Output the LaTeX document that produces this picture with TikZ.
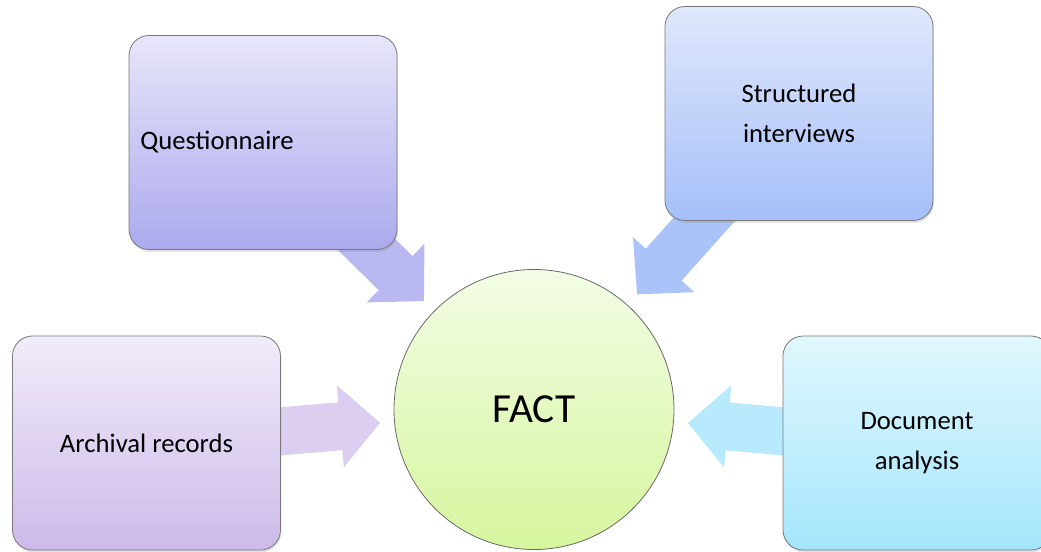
\documentclass[tikz,border=0pt]{standalone}
\usepackage{fontspec}
\setmainfont{Carlito}
\usetikzlibrary{arrows.meta,shadows,backgrounds}

\definecolor{questtop}{RGB}{231,230,249}
\definecolor{questbot}{RGB}{172,169,238}
\definecolor{questarr}{RGB}{186,184,241}
\definecolor{structtop}{RGB}{223,232,252}
\definecolor{structbot}{RGB}{166,191,249}
\definecolor{structarr}{RGB}{172,195,250}
\definecolor{archtop}{RGB}{241,236,250}
\definecolor{archbot}{RGB}{205,186,233}
\definecolor{archarr}{RGB}{220,206,240}
\definecolor{doctop}{RGB}{225,247,254}
\definecolor{docbot}{RGB}{164,230,252}
\definecolor{docarr}{RGB}{182,234,252}
\definecolor{facttop}{RGB}{243,252,229}
\definecolor{factbot}{RGB}{214,246,158}

\tikzset{every picture/.style={line width=0.75pt}}
\tikzset{
  methodbox/.style={rectangle, rounded corners=15pt, minimum width=201pt, minimum height=160.5pt,
    draw={rgb, 255:red, 120; green, 120; blue, 120 }, line width=0.6pt, align=center,
    font=\fontsize{20}{30}\selectfont,
    drop shadow={opacity=0.22, shadow xshift=0.6pt, shadow yshift=-1.8pt}},
  feed/.style={line width=36pt, -{Triangle[length=30pt,width=60pt]}, shorten >=10.5pt}
}

\begin{document}
\begin{tikzpicture}[x=0.75pt,y=0.75pt,yscale=-1,xscale=1]
%set diagram size to 1041 x 552
\useasboundingbox (0,0) rectangle (1041,552);

%Shape: Circle [id:fact]
\node [circle, minimum size=210pt, top color=facttop, bottom color=factbot, draw={rgb, 255:red, 105; green, 105; blue, 105 }, line width=0.6pt, font=\fontsize{31}{37}\selectfont] (fact) at (534,409.5) {FACT};

%Shape: Rounded Rect [id:quest]
\node [methodbox, top color=questtop, bottom color=questbot, align=left, text width=184pt, inner xsep=8.5pt] (quest) at (263,142.5) {Questionnaire};
%Shape: Rounded Rect [id:struct]
\node [methodbox, top color=structtop, bottom color=structbot] (struct) at (799,113.5) {Structured\\interviews};
%Shape: Rounded Rect [id:arch]
\node [methodbox, top color=archtop, bottom color=archbot] (arch) at (146.5,443) {Archival records};
%Shape: Rounded Rect [id:doc]
\node [methodbox, top color=doctop, bottom color=docbot] (doc) at (917,443) {Document\\analysis};

%Block arrows into the circle
\begin{scope}[on background layer]
\draw [feed, color=questarr] (quest.center) -- (fact);
\draw [feed, color=structarr] (struct.center) -- (fact);
\draw [feed, color=archarr] (arch.center) -- (fact);
\draw [feed, color=docarr] (doc.center) -- (fact);
\end{scope}

\end{tikzpicture}
\end{document}
